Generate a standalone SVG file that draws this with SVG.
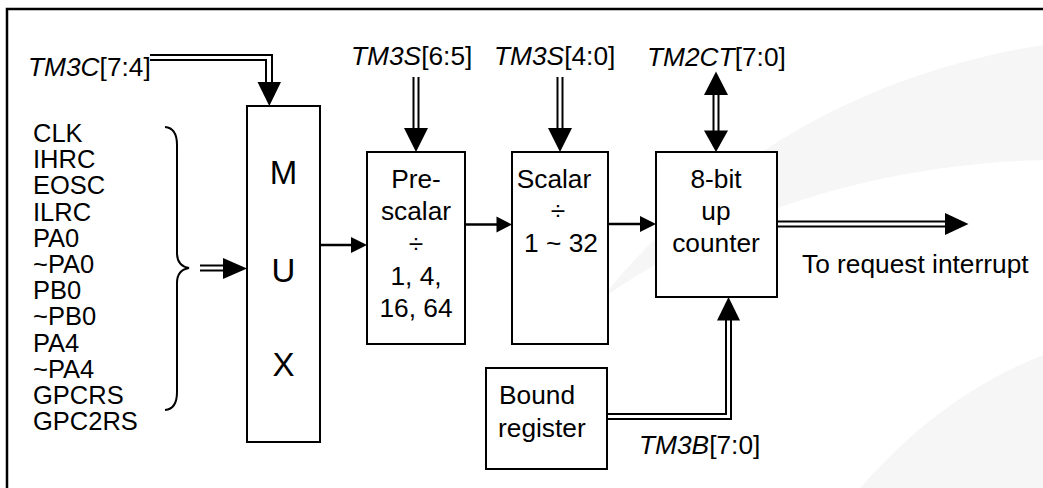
<svg xmlns="http://www.w3.org/2000/svg" width="1043" height="488" viewBox="0 0 1043 488">
  <style>
    text { font-family: "Liberation Sans", Arial, sans-serif; fill: #000; }
    .lbl { font-size: 26.3px; }
    .lst { font-size: 25.5px; }
    .mux { font-size: 33px; }
    .it { font-style: italic; }
    .box { fill: #fff; stroke: #000; stroke-width: 2; }
    .ln { fill: none; stroke: #000; stroke-width: 2; }
    .ln1 { fill: none; stroke: #000; stroke-width: 2.5; }
    .ah { fill: #000; stroke: none; }
    .wm { fill: #f6f6f6; stroke: none; }
  </style>

  <rect x="0" y="0" width="1043" height="488" fill="#fff"/>
  <g id="watermark">
    <path class="wm" d="M 600 300 C 680 200, 820 80, 1043 45 L 1043 160 C 870 165, 720 215, 600 300 Z"/>
    <path class="wm" d="M 860 488 C 920 420, 980 380, 1043 355 L 1043 488 Z"/>
  </g>

  <g id="frame">
    <path class="ln1" d="M 7 488 L 7 9 L 1043 9"/>
  </g>

  <g id="inputs">
    <text class="lst" x="33" y="142">CLK</text>
    <text class="lst" x="33" y="168.2">IHRC</text>
    <text class="lst" x="33" y="194.4">EOSC</text>
    <text class="lst" x="33" y="220.6">ILRC</text>
    <text class="lst" x="33" y="246.8">PA0</text>
    <text class="lst" x="33" y="273">~PA0</text>
    <text class="lst" x="33" y="299.2">PB0</text>
    <text class="lst" x="33" y="325.4">~PB0</text>
    <text class="lst" x="33" y="351.6">PA4</text>
    <text class="lst" x="33" y="377.8">~PA4</text>
    <text class="lst" x="33" y="404">GPCRS</text>
    <text class="lst" x="33" y="430.2">GPC2RS</text>
    <path class="ln" d="M 165 127 Q 177 128 177 145 L 177 253 Q 177 266 189 268 Q 177 270 177 283 L 177 392 Q 177 409 165 410"/>
  </g>

  <g id="mux">
    <rect class="box" x="247" y="106" width="73" height="336"/>
    <text class="mux" x="283.5" y="184" text-anchor="middle">M</text>
    <text class="mux" x="283.5" y="282" text-anchor="middle">U</text>
    <text class="mux" x="283.5" y="376" text-anchor="middle">X</text>
  </g>

  <g id="prescalar">
    <rect class="box" x="367" y="152" width="98" height="192"/>
    <text class="lbl" x="416" y="188" text-anchor="middle">Pre-</text>
    <text class="lbl" x="416" y="220" text-anchor="middle">scalar</text>
    <text class="lbl" x="416" y="253" text-anchor="middle">÷</text>
    <text class="lbl" x="416" y="285" text-anchor="middle">1, 4,</text>
    <text class="lbl" x="416" y="317" text-anchor="middle">16, 64</text>
  </g>

  <g id="scalar">
    <rect class="box" x="512" y="152" width="96" height="192"/>
    <text class="lbl" x="554" y="188" text-anchor="middle">Scalar</text>
    <text class="lbl" x="558" y="220" text-anchor="middle">÷</text>
    <text class="lbl" x="561" y="252" text-anchor="middle">1 ~ 32</text>
  </g>

  <g id="counter">
    <rect class="box" x="656" y="152" width="121" height="145"/>
    <text class="lbl" x="716" y="188" text-anchor="middle">8-bit</text>
    <text class="lbl" x="716" y="220" text-anchor="middle">up</text>
    <text class="lbl" x="716" y="252" text-anchor="middle">counter</text>
  </g>

  <g id="bound">
    <rect class="box" x="486" y="368" width="121" height="101"/>
    <text class="lbl" x="499" y="404">Bound</text>
    <text class="lbl" x="498" y="437">register</text>
  </g>

  <g id="labels">
    <text class="lbl" x="28" y="76"><tspan class="it">TM3C</tspan>[7:4]</text>
    <text class="lbl" x="351" y="65"><tspan class="it">TM3S</tspan>[6:5]</text>
    <text class="lbl" x="494" y="65"><tspan class="it">TM3S</tspan>[4:0]</text>
    <text class="lbl" x="647" y="66"><tspan class="it">TM2CT</tspan>[7:0]</text>
    <text class="lbl" x="639" y="454"><tspan class="it">TM3B</tspan>[7:0]</text>
    <text class="lbl" x="802" y="273">To request interrupt</text>
  </g>

  <g id="connectors">
    <!-- TM3C -> MUX -->
    <path class="ln" d="M 150 55 L 272 55 L 272 84"/>
    <path class="ln" d="M 150 60 L 266 60 L 266 84"/>
    <polygon class="ah" points="257.5,82 281,82 269.3,106"/>
    <!-- inputs -> MUX -->
    <path class="ln" d="M 200 265.5 L 227 265.5"/>
    <path class="ln" d="M 200 270.5 L 227 270.5"/>
    <polygon class="ah" points="223,258 223,279 247,268.5"/>
    <!-- MUX -> prescalar -->
    <path class="ln1" d="M 320 245 L 353 245"/>
    <polygon class="ah" points="351,237 351,253 367,245"/>
    <!-- TM3S[6:5] -> prescalar -->
    <path class="ln" d="M 413.5 77 L 413.5 130"/>
    <path class="ln" d="M 418.5 77 L 418.5 130"/>
    <polygon class="ah" points="404,128 428,128 416,152"/>
    <!-- prescalar -> scalar -->
    <path class="ln1" d="M 465 224.5 L 498 224.5"/>
    <polygon class="ah" points="496.5,216.5 496.5,232.5 512,224.5"/>
    <!-- TM3S[4:0] -> scalar -->
    <path class="ln" d="M 557.5 77 L 557.5 130"/>
    <path class="ln" d="M 562.5 77 L 562.5 130"/>
    <polygon class="ah" points="548,128 572,128 560,152"/>
    <!-- scalar -> counter -->
    <path class="ln1" d="M 608 224 L 642 224"/>
    <polygon class="ah" points="640,216 640,232 656,224"/>
    <!-- TM2CT <-> counter -->
    <path class="ln" d="M 713.5 93 L 713.5 132"/>
    <path class="ln" d="M 718.5 93 L 718.5 132"/>
    <polygon class="ah" points="704,95 728,95 716,71.5"/>
    <polygon class="ah" points="704,130.5 728,130.5 716,152"/>
    <!-- counter -> interrupt -->
    <path class="ln" d="M 777 221.5 L 947 221.5"/>
    <path class="ln" d="M 777 226.5 L 947 226.5"/>
    <polygon class="ah" points="945,213 945,235 968.5,224"/>
    <!-- bound -> counter -->
    <path class="ln" d="M 607 419 L 731 419 L 731 318"/>
    <path class="ln" d="M 607 414 L 726 414 L 726 318"/>
    <polygon class="ah" points="717,320.5 740,320.5 728.5,297"/>
  </g>
</svg>
